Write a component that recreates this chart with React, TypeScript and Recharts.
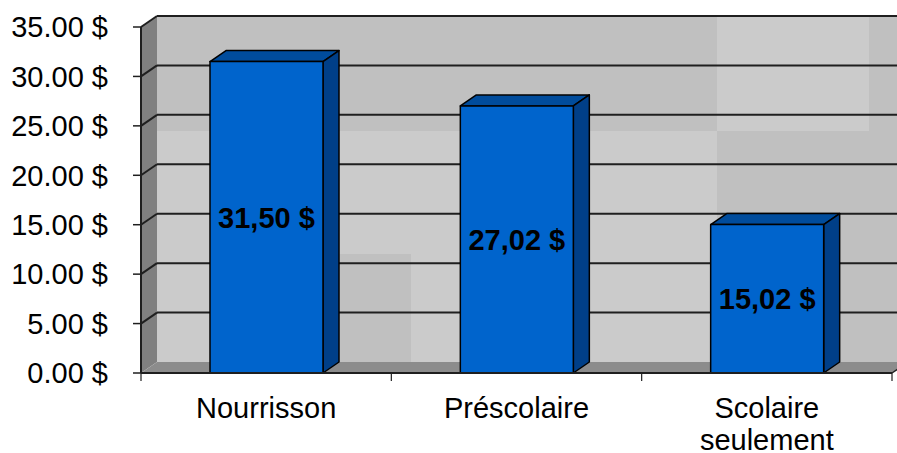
import { Bar, BarChart, LabelList, ReferenceArea, ReferenceLine, Text, XAxis, YAxis } from "recharts";

const categories = ["Nourrisson", "Préscolaire", "Scolaire seulement"];
const costs = [31.5, 27.02, 15.02];
const yTicks = [0, 5, 10, 15, 20, 25, 30, 35];

const data = categories.map((name, i) => ({ name, cost: costs[i] }));

const FONT = "'Liberation Sans', Arial, sans-serif";
const DX = 16;
const DY = -11;
const LINE = "#1f1f1f";

// lighter blocks on the back wall (offsets from the plot's top-left corner)
const wallPatches = [
  [576, -11, 152, 115],
  [197, 104, 379, 123],
  [270, 227, 306, 108],
  [16, 104, 53, 231],
];

function Walls(props: any) {
  const { x, y, width, height } = props;
  const bottom = y + height;
  const n = categories.length;
  return (
    <g>
      <rect x={x + DX} y={y + DY} width={width + 40} height={height} fill="#c0c0c0" />
      {wallPatches.map(([px, py, pw, ph], i) => (
        <rect key={i} x={x + px} y={y + py} width={pw} height={ph} fill="#cbcbcb" />
      ))}
      <polygon
        points={`${x},${y} ${x + DX},${y + DY} ${x + DX},${bottom + DY} ${x},${bottom}`}
        fill="#808080"
      />
      <polygon
        points={`${x},${bottom} ${x + DX},${bottom + DY} ${x + width + DX},${bottom + DY} ${x + width},${bottom}`}
        fill="#8c8c8c"
      />
      <line x1={x + width} y1={bottom} x2={x + width + DX} y2={bottom + DY} stroke={LINE} strokeWidth={1.5} />
      {Array.from({ length: n + 1 }, (_, i) => (
        <line
          key={i}
          x1={x + (i * width) / n}
          x2={x + (i * width) / n}
          y1={bottom}
          y2={bottom + 8}
          stroke={LINE}
          strokeWidth={1.2}
        />
      ))}
    </g>
  );
}

function GridLine3D(props: any) {
  const { x1, y1, x2 } = props;
  return (
    <g>
      <line x1={x1} y1={y1} x2={x1 + DX} y2={y1 + DY} stroke={LINE} strokeWidth={2} />
      <line x1={x1 + DX} y1={y1 + DY} x2={x2 + DX + 20} y2={y1 + DY} stroke={LINE} strokeWidth={2} />
    </g>
  );
}

function Bar3D(props: any) {
  const { x, y, width, height } = props;
  const r = x + width;
  const b = y + height;
  return (
    <g stroke="#000" strokeWidth={1.5} strokeLinejoin="round">
      <polygon points={`${x},${y} ${x + DX},${y + DY} ${r + DX},${y + DY} ${r},${y}`} fill="#004c9c" />
      <polygon points={`${r},${y} ${r + DX},${y + DY} ${r + DX},${b + DY} ${r},${b}`} fill="#003f88" />
      <rect x={x} y={y} width={width} height={height} fill="#0064cc" />
    </g>
  );
}

function CategoryTick(props: any) {
  const { x, y, payload } = props;
  return (
    <Text
      x={x}
      y={y}
      width={120}
      textAnchor="middle"
      verticalAnchor="start"
      lineHeight={32}
      fontSize={29}
      fontFamily={FONT}
      fill="#000"
    >
      {payload.value}
    </Text>
  );
}

export default function App() {
  return (
    <div style={{ width: 897, height: 453, background: "#fff" }}>
      <style>{"body{margin:0}"}</style>
      <BarChart
        width={897}
        height={453}
        data={data}
        margin={{ top: 27, right: 5, bottom: 0, left: 0 }}
        style={{ fontFamily: FONT }}
      >
        <XAxis
          dataKey="name"
          height={80}
          tickLine={false}
          tickSize={6}
          tickMargin={18}
          axisLine={{ stroke: LINE, strokeWidth: 2 }}
          tick={<CategoryTick />}
          interval={0}
        />
        <YAxis
          width={141}
          domain={[0, 35]}
          ticks={yTicks}
          tickSize={8}
          tickMargin={25}
          tickFormatter={(v: number) => `${v.toFixed(2)} $`}
          tick={{ fill: "#000", fontSize: 29, fontFamily: FONT }}
          tickLine={{ stroke: LINE, strokeWidth: 1.5 }}
          axisLine={{ stroke: LINE, strokeWidth: 2 }}
        />
        <ReferenceArea y1={0} y2={35} shape={<Walls />} ifOverflow="visible" zIndex={-200} />
        {yTicks.slice(1).map((t) => (
          <ReferenceLine key={t} y={t} shape={<GridLine3D />} ifOverflow="visible" zIndex={-150} />
        ))}
        <Bar dataKey="cost" barSize={113} shape={<Bar3D />} isAnimationActive={false}>
          <LabelList
            dataKey="cost"
            position="center"
            formatter={(v: any) => `${Number(v).toFixed(2).replace(".", ",")} $`}
            fill="#000"
            fontSize={29}
            fontWeight="bold"
            fontFamily={FONT}
          />
        </Bar>
      </BarChart>
    </div>
  );
}
